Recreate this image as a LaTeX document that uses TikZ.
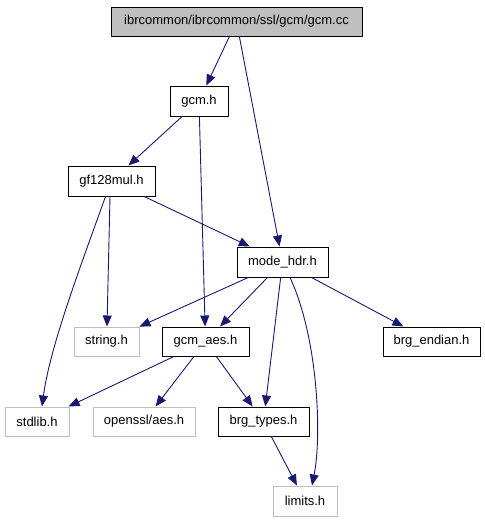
\documentclass[tikz,border=0pt]{standalone}
\usepackage{fontspec}
\setmainfont{Liberation Sans}
\usetikzlibrary{arrows.meta}
\definecolor{edgec}{HTML}{191970}
\definecolor{greyc}{HTML}{BFBFBF}
\tikzset{
  box/.style={draw=black, line width=1pt, inner sep=0pt, font=\fontsize{13pt}{15pt}\selectfont},
  sysbox/.style={draw=greyc, line width=1pt, inner sep=0pt, font=\fontsize{13pt}{15pt}\selectfont},
  rootbox/.style={box, fill=greyc},
  dep/.style={draw=edgec, line width=0.9pt, -{Triangle[length=11pt,width=9pt]}},
}
\begin{document}
\begin{tikzpicture}[x=1pt,y=-1pt]
\useasboundingbox (0,0) rectangle (485,523);
\node[rootbox, minimum width=251pt, minimum height=29pt] (gcmcc) at (236.5,21.5) {ibrcommon/ibrcommon/ssl/gcm/gcm.cc};
\node[box, minimum width=58pt, minimum height=30pt] (gcmh) at (199,101) {gcm.h};
\node[box, minimum width=87pt, minimum height=30pt] (gf) at (111.5,181) {gf128mul.h};
\node[box, minimum width=91pt, minimum height=30pt] (mode) at (282.5,262) {mode\_hdr.h};
\node[sysbox, minimum width=65pt, minimum height=29pt] (string) at (106.5,341.5) {string.h};
\node[box, minimum width=87pt, minimum height=29pt] (aes) at (205.5,341.5) {gcm\_aes.h};
\node[box, minimum width=97pt, minimum height=29pt] (endian) at (431.5,341.5) {brg\_endian.h};
\node[sysbox, minimum width=64pt, minimum height=29pt] (stdlib) at (37,421.5) {stdlib.h};
\node[sysbox, minimum width=102pt, minimum height=29pt] (openssl) at (144,421.5) {openssl/aes.h};
\node[box, minimum width=91pt, minimum height=29pt] (types) at (263.5,421.5) {brg\_types.h};
\node[sysbox, minimum width=64pt, minimum height=30pt] (limits) at (305,501) {limits.h};

\draw[dep] (gcmcc) -- (gcmh);
\draw[dep] (gcmcc) -- (mode);
\draw[dep] (gcmh) -- (gf);
\draw[dep] (gcmh) -- (aes);
\draw[dep] (gf) -- (mode);
\draw[dep] ([xshift=-1.5pt]gf.south) -- ([xshift=0.5pt]string.north);
\draw[dep] ([xshift=-6pt]gf.south) .. controls +(-25,70) and +(8,-60) .. ([xshift=5pt]stdlib.north);
\draw[dep] (mode) -- (string);
\draw[dep] (mode) -- (aes);
\draw[dep] (mode) -- (types);
\draw[dep] ([xshift=7.5pt]mode.south) .. controls +(28,60) and +(10,-50) .. ([xshift=7pt]limits.north);
\draw[dep] (mode) -- (endian);
\draw[dep] (aes) -- (stdlib);
\draw[dep] (aes) -- (openssl);
\draw[dep] (aes) -- (types);
\draw[dep] (types) -- (limits);
\end{tikzpicture}
\end{document}
